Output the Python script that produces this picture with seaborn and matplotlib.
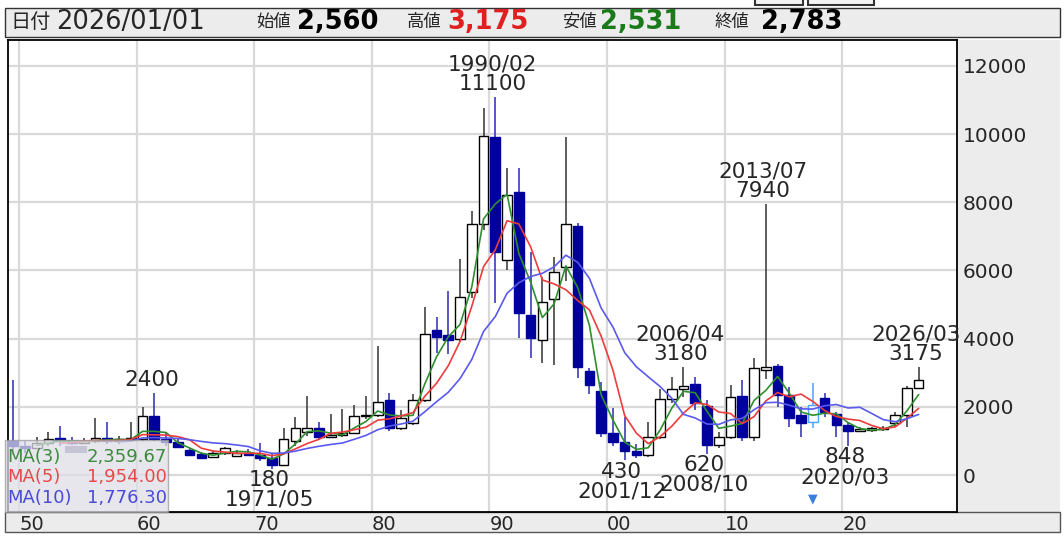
import matplotlib
matplotlib.use('Agg')
import matplotlib.pyplot as plt
from matplotlib.patches import Rectangle
import pandas as pd
import seaborn as sns

# 年足データ (1949-2026)
years = list(range(1949, 2027))
opens = [1000, 860, 800, 950, 1080, 1000, 950, 1000, 1080, 1000,
         1050, 1060, 1730, 1050, 980, 730, 615, 530, 645, 560,
         650, 600, 500, 290, 1000, 1250, 1380, 1120, 1180, 1230,
         1730, 1750, 2200, 1380, 1520, 2200, 4250, 4100, 3990, 5370,
         7360, 9920, 6300, 8310, 4690, 3960, 5160, 6110, 7310, 3060,
         2470, 1240, 980, 710, 585, 1120, 2230, 2520, 2670, 2020,
         880, 1120, 2320, 1120, 3080, 3200, 2350, 1760, 1565, 2260,
         1790, 1470, 1300, 1330, 1340, 1516, 1760, 2560]
highs = [2780, 1000, 1100, 1270, 1440, 1100, 1080, 1680, 1545, 1150,
         1550, 2000, 2400, 1240, 1050, 800, 680, 700, 820, 720,
         760, 950, 620, 1390, 1700, 2317, 1550, 1790, 1935, 2050,
         2317, 3780, 2400, 1900, 2375, 4930, 4630, 5400, 6335, 7750,
         10760, 11100, 9010, 9010, 6550, 5815, 6400, 9920, 7400, 3150,
         2740, 1965, 1710, 900, 1565, 2520, 2880, 3180, 2880, 2200,
         1270, 2640, 2790, 3430, 7940, 3250, 2580, 2000, 2700, 2400,
         1850, 1560, 1420, 1400, 1450, 1860, 2600, 3175]
lows = [600, 650, 750, 850, 850, 880, 900, 950, 900, 920,
        980, 1000, 1000, 850, 800, 560, 470, 500, 600, 520,
        560, 420, 180, 250, 850, 1150, 1050, 1080, 1100, 1200,
        1650, 1700, 1300, 1310, 1480, 2150, 3580, 3560, 3900, 5200,
        7200, 5035, 6010, 4020, 3430, 3285, 3225, 5700, 2845, 2375,
        1100, 850, 430, 500, 540, 1050, 2100, 2300, 1900, 620,
        800, 1050, 1000, 1000, 2815, 2000, 1420, 1115, 1380, 1700,
        1120, 848, 1250, 1250, 1280, 1400, 1420, 2531]
closes = [860, 800, 950, 1050, 1000, 950, 1000, 1080, 1000, 1050,
          1060, 1730, 1050, 960, 830, 590, 500, 645, 790, 650,
          600, 500, 290, 1060, 1380, 1380, 1120, 1180, 1230, 1730,
          1750, 2150, 1380, 1670, 2200, 4135, 4060, 3960, 5230, 7360,
          9950, 6540, 8210, 4750, 4020, 5080, 5960, 7360, 3180, 2640,
          1230, 980, 690, 585, 1120, 2230, 2520, 2610, 2110, 880,
          1120, 2300, 1120, 3140, 3180, 2350, 1670, 1525, 2060, 1850,
          1470, 1290, 1323, 1340, 1351, 1750, 2546, 2783]

peak_years = [1961, 1990, 2006, 2013, 2026]
peak_months = ['', '02', '04', '07', '03']
trough_years = [1971, 2001, 2008, 2020]
trough_months = ['05', '12', '10', '03']
selected_year = 2017

ma_windows = [3, 5, 10]
ma_colors = ['#2f8f2f', '#ee3b3b', '#5a5aee']
ma_text_colors = ['#3d8b3d', '#e84a4a', '#4a4ad8']
yticks = [0, 2000, 4000, 6000, 8000, 10000, 12000]
decades = [1950, 1960, 1970, 1980, 1990, 2000, 2010, 2020]

sns.set_style('white')
plt.rcParams['font.family'] = ['DejaVu Sans', 'Noto Sans CJK JP']

W, H = 1064, 538


def fx(x):
    return x / W


def fy(y):
    return 1 - y / H


df = pd.DataFrame({'year': years, 'open': opens, 'high': highs,
                   'low': lows, 'close': closes})
df['x'] = df['year'] + 0.5
ma_names = []
for w in ma_windows:
    name = f'MA({w})'
    ma_names.append(name)
    df[name] = df['close'].rolling(w).mean()

fig = plt.figure(figsize=(W / 100, H / 100), dpi=100)
fig.patch.set_facecolor('white')

# パネル背景 (軸の下に置く)
grey = '#ececec'
fig.patches.append(Rectangle((fx(5), fy(37)), fx(1055), 29 / H, transform=fig.transFigure,
                             facecolor=grey, edgecolor='#333333', lw=1.0, zorder=-1))
fig.patches.append(Rectangle((fx(957), fy(512)), fx(103), 472 / H, transform=fig.transFigure,
                             facecolor=grey, edgecolor='none', zorder=-1))
fig.patches.append(Rectangle((fx(5), fy(532)), fx(1055), 20 / H, transform=fig.transFigure,
                             facecolor=grey, edgecolor='#555555', lw=1.0, zorder=-1))
for bx, bw in [(755, 48), (808, 66)]:
    fig.patches.append(Rectangle((fx(bx), fy(5)), fx(bw), 8 / H, transform=fig.transFigure,
                                 facecolor='#f4f4f4', edgecolor='#333333', lw=1.5, zorder=-1))

ax = fig.add_axes([fx(8), fy(512), fx(949), 472 / H])
ax.set_facecolor('white')

up = df['close'] >= df['open']
sel = df['year'] == selected_year
face = ['white' if u else '#00009c' for u in up]
edge = ['black' if u else '#00009c' for u in up]
wick = ['#333333' if u else '#2a2ab0' for u in up]
for i in df.index[sel]:
    face[i] = '#f4faff'
    edge[i] = '#4da3ff'
    wick[i] = '#4da3ff'

ax.vlines(df['x'], df['low'], df['high'], colors=wick, lw=1.1, zorder=2)
body = (df['close'] - df['open']).abs().clip(lower=40)
bottom = df[['open', 'close']].min(axis=1)
ax.bar(df['x'], body, bottom=bottom, width=0.82, color=face,
       edgecolor=edge, linewidth=1.0, zorder=3)

long = df.melt(id_vars='x', value_vars=ma_names, var_name='ma', value_name='v').dropna()
sns.lineplot(data=long, x='x', y='v', hue='ma', palette=dict(zip(ma_names, ma_colors)),
             legend=False, lw=1.2, ax=ax, zorder=4)

ax.set_xlim(1949.06, 2029.76)
ax.set_ylim(-1085, 12758)
ax.set_xlabel('')
ax.set_ylabel('')
ax.grid(True, color='#d9d9d9', lw=1.6, zorder=0)
ax.set_axisbelow(True)
ax.yaxis.tick_right()
ax.set_yticks(yticks)
ax.set_yticklabels([str(v) for v in yticks])
ax.set_xticks(decades)
ax.set_xticklabels([f'{d % 100:02d}' for d in decades], ha='left')
ax.tick_params(axis='y', length=0, pad=4, labelsize=14.5)
ax.tick_params(axis='x', length=0, pad=2, labelsize=14)
for s in ax.spines.values():
    s.set_color('black')
    s.set_linewidth(1.3)

# 高値・安値ラベル
hl = df.set_index('year')
for y, m in zip(peak_years, peak_months):
    v = hl.loc[y, 'high']
    txt = f'{y}/{m}\n{v}' if m else f'{v}'
    ax.annotate(txt, xy=(y + 0.25, v), xytext=(0, 2), textcoords='offset points',
                ha='center', va='bottom', fontsize=15.5, linespacing=0.98, zorder=6)
for y, m in zip(trough_years, trough_months):
    v = hl.loc[y, 'low']
    ax.annotate(f'{v}\n{y}/{m}', xy=(y + 0.25, v), xytext=(0, -1), textcoords='offset points',
                ha='center', va='top', fontsize=15.5, linespacing=0.98, zorder=6)

ax.annotate('▼', xy=(selected_year + 0.5, 0.015), xycoords=('data', 'axes fraction'),
            ha='center', va='bottom', fontsize=9, color='#3a7fe0', zorder=6)

# MA 凡例
fig.patches.append(Rectangle((fx(5), fy(512)), fx(163), 72 / H, transform=fig.transFigure,
                             facecolor='#dedee6', alpha=0.75, edgecolor='#9a9a9a', lw=1.0,
                             zorder=10))
fig.patches.append(Rectangle((fx(65), fy(453)), fx(22), 7 / H, transform=fig.transFigure,
                             facecolor='#c4c4d4', edgecolor='none', zorder=11))
for k, (name, col) in enumerate(zip(ma_names, ma_text_colors)):
    yy = 457 + k * 20.5
    last = df[name].iloc[-1]
    fig.text(fx(7), fy(yy), name, color=col, fontsize=13, va='center', ha='left', zorder=12)
    fig.text(fx(167), fy(yy), f'{last:,.2f}', color=col, fontsize=13, va='center',
             ha='right', zorder=12)

# ヘッダー
last = df.iloc[-1]
hy = fy(22)
fig.text(fx(10), hy, '日付', fontsize=14.5, va='center', family=['Noto Sans CJK JP'])
fig.text(fx(56), hy, f"{int(last['year'])}/01/01", fontsize=18.5, va='center')
items = [('始値', last['open'], 'black', 256, 297),
         ('高値', last['high'], '#e02020', 407, 447),
         ('安値', last['low'], '#1a7a1a', 562, 600),
         ('終値', last['close'], 'black', 715, 761)]
for lab, val, col, lx, vx in items:
    fig.text(fx(lx), hy, lab, fontsize=12.5, va='center', family=['Noto Sans CJK JP'])
    fig.text(fx(vx), hy, f'{int(val):,}', fontsize=18.5, fontweight='bold', color=col,
             va='center')

fig.savefig('out.png', dpi=100)
